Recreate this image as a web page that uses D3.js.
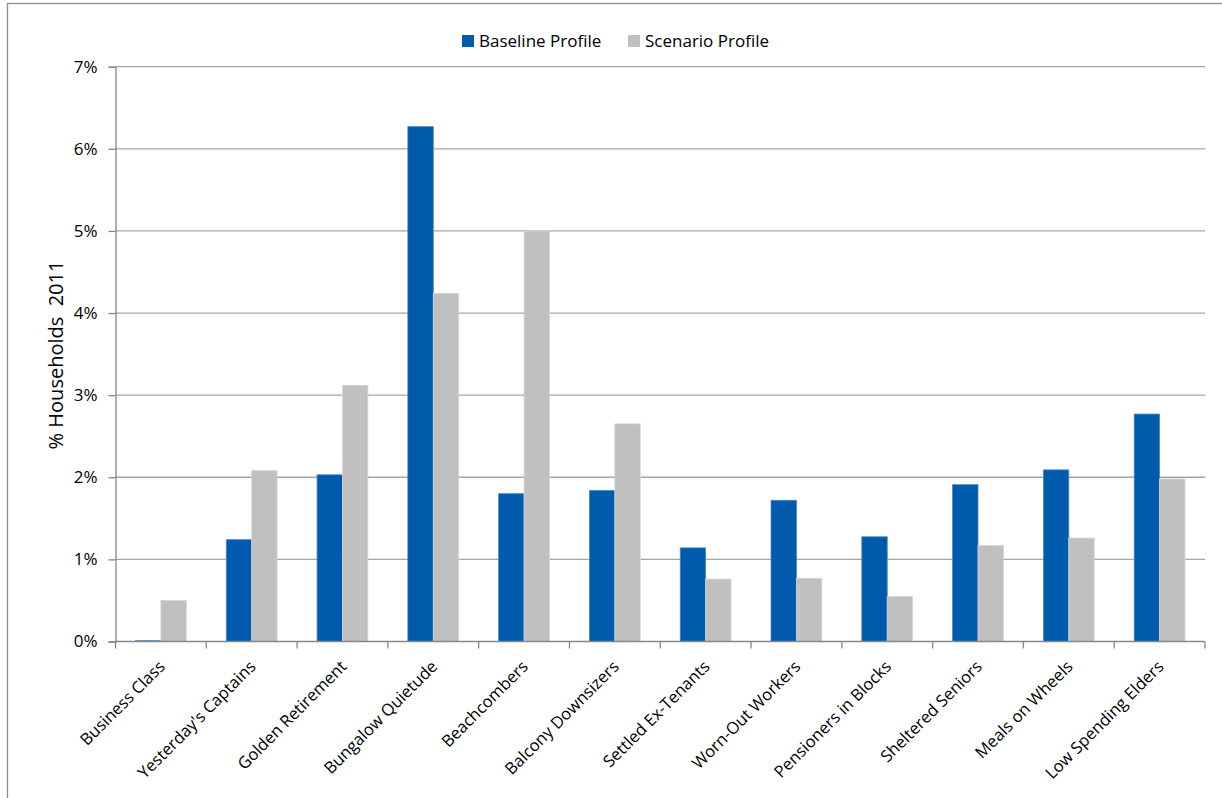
<!DOCTYPE html>
<html>
<head>
<meta charset="utf-8">
<script src="https://cdn.jsdelivr.net/npm/d3@7"></script>
<style>
  html, body { margin: 0; padding: 0; background: #fff; }
  svg { display: block; }
  text { font-family: "Open Sans", "Lato", sans-serif; fill: #000; }
</style>
</head>
<body>
<svg id="chart" width="1222" height="798"></svg>
<script>
const categories = ["Business Class", "Yesterday's Captains", "Golden Retirement", "Bungalow Quietude",
  "Beachcombers", "Balcony Downsizers", "Settled Ex-Tenants", "Worn-Out Workers",
  "Pensioners in Blocks", "Sheltered Seniors", "Meals on Wheels", "Low Spending Elders"];
const seriesNames = ["Baseline Profile", "Scenario Profile"];
const baseline = [0.01, 1.24, 2.03, 6.27, 1.80, 1.84, 1.14, 1.72, 1.275, 1.91, 2.09, 2.77];
const scenario = [0.50, 2.08, 3.12, 4.24, 5.00, 2.65, 0.76, 0.77, 0.55, 1.17, 1.26, 1.98];
const yTicks = [0, 1, 2, 3, 4, 5, 6, 7];
const yTitle = "% Households  2011";
const colors = ["#005BAC", "#C0C0C0"];

const svg = d3.select("#chart");
const mLeft = 115.5, mRight = 1205, mTop = 66.7, mBottom = 641.5;

// outer border
svg.append("rect").attr("x", 7.5).attr("y", 3.5).attr("width", 1240).attr("height", 820)
  .attr("fill", "none").attr("stroke", "#8c8c8c").attr("stroke-width", 1.3);

const x = d3.scaleBand().domain(categories).range([mLeft, mRight]).paddingInner(0).paddingOuter(0);
const y = d3.scaleLinear().domain([0, 7]).range([mBottom, mTop]);
const groupPad = 0.22;
const xs = d3.scaleBand().domain(seriesNames).range([x.bandwidth() * groupPad, x.bandwidth() * (1 - groupPad)]);

// gridlines
svg.append("g").selectAll("line").data(yTicks.filter(d => d > 0)).join("line")
  .attr("x1", mLeft).attr("x2", mRight)
  .attr("y1", d => y(d)).attr("y2", d => y(d))
  .attr("stroke", "#a6a6a6").attr("stroke-width", 1.3);

// bars
const data = categories.map((c, i) => ({ c, vals: [baseline[i], scenario[i]] }));
const g = svg.append("g");
data.forEach(d => {
  d.vals.forEach((v, j) => {
    g.append("rect")
      .attr("x", x(d.c) + xs(seriesNames[j]))
      .attr("y", y(v))
      .attr("width", xs.bandwidth())
      .attr("height", y(0) - y(v))
      .attr("fill", colors[j])
      .attr("stroke", j === 0 ? "#4a86c5" : "#d6d6d6")
      .attr("stroke-width", 0.8);
  });
});

// y axis
const yAxis = d3.axisLeft(y).tickValues(yTicks).tickFormat(d => d + "%").tickSize(7).tickPadding(11);
const ya = svg.append("g").attr("transform", `translate(${mLeft},0)`).call(yAxis);
ya.select(".domain").attr("stroke", "#868686").attr("stroke-width", 1.3);
ya.selectAll(".tick line").attr("stroke", "#868686").attr("stroke-width", 1.3);
ya.selectAll(".tick text").style("font-size", "17px").style("font-family", "'Open Sans', sans-serif").attr("fill", "#000");

// x axis
svg.append("line").attr("x1", mLeft).attr("x2", mRight).attr("y1", mBottom).attr("y2", mBottom)
  .attr("stroke", "#868686").attr("stroke-width", 1.3);
const bounds = categories.map(c => x(c)).concat([mRight]);
svg.append("g").selectAll("line").data(bounds).join("line")
  .attr("x1", d => d).attr("x2", d => d).attr("y1", mBottom).attr("y2", mBottom + 7)
  .attr("stroke", "#868686").attr("stroke-width", 1.3);

svg.append("g").selectAll("text").data(categories).join("text")
  .attr("transform", d => `translate(${x(d) + x.bandwidth() / 2 + 1},${mBottom + 22}) rotate(-45)`)
  .attr("text-anchor", "end")
  .attr("dy", "0.35em")
  .style("font-size", "16.5px")
  .text(d => d);

// y title
svg.append("text")
  .attr("transform", `translate(63,355) rotate(-90)`)
  .attr("text-anchor", "middle")
  .style("font-size", "20px")
  .style("white-space", "pre")
  .attr("xml:space", "preserve")
  .text(yTitle);

// legend
const legendItems = [{ name: seriesNames[0], x: 462 }, { name: seriesNames[1], x: 628 }];
const lg = svg.append("g");
legendItems.forEach((it, j) => {
  lg.append("rect").attr("x", it.x).attr("y", 35).attr("width", 12).attr("height", 12).attr("fill", colors[j]);
  lg.append("text").attr("x", it.x + 17).attr("y", 41).attr("dy", "0.35em")
    .style("font-size", "17px").text(it.name);
});
</script>
</body>
</html>
